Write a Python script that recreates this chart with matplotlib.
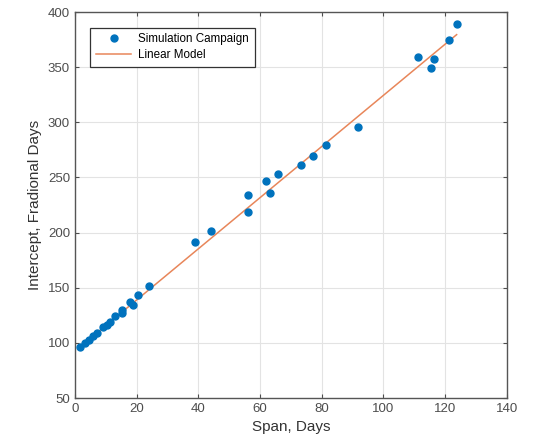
import numpy as np
import matplotlib
matplotlib.use('Agg')
import matplotlib.pyplot as plt

plt.rcParams['font.family'] = ['Liberation Sans', 'DejaVu Sans']

# data
span_days = [1.8, 3.4, 4.6, 5.8, 7.0, 9.2, 10.3, 11.3, 13.0, 15.1, 15.3, 18.0, 18.7, 20.4, 23.9,
             39.0, 44.0, 56.0, 56.1, 62.0, 63.1, 65.7, 73.2, 77.1, 81.4, 91.8,
             111.3, 115.4, 116.4, 121.1, 123.7]
intercept_days = [96, 100, 103, 106, 109, 114, 116, 118.5, 124, 127, 130, 137, 134, 143, 152,
                  191.5, 201, 219, 234, 247, 235.5, 253.5, 261, 269, 279, 295.5,
                  359, 349, 357.5, 374.5, 389]
# linear model coefficients
model_b0 = 92.5
model_b1 = 2.32
model_x = [1.8, 123.7]

xticks = [0, 20, 40, 60, 80, 100, 120, 140]
yticks = [50, 100, 150, 200, 250, 300, 350, 400]

fig = plt.figure(figsize=(5.39, 4.47), dpi=100)
ax = fig.add_axes([0.139, 0.1096, 0.8015, 0.8635])

ax.plot(span_days, intercept_days, 'o', color='#0072BD', markersize=5, label='Simulation Campaign', zorder=3)
mx = np.array(model_x)
ax.plot(mx, model_b0 + model_b1 * mx, '-', color='#E8865A', lw=1.1, label='Linear Model', zorder=2)

ax.set_xlim(0, 140)
ax.set_ylim(50, 400)
ax.set_xticks(xticks)
ax.set_yticks(yticks)
ax.grid(True, color='#e3e3e3', lw=0.8)
ax.set_axisbelow(True)
ax.tick_params(direction='in', top=True, right=True, labelsize=9.5, colors='#4d4d4d', length=3)
for s in ax.spines.values():
    s.set_color('#555555')
    s.set_linewidth(1.0)

ax.set_xlabel('Span, Days', fontsize=11, color='#333333', labelpad=4)
ax.set_ylabel('Intercept, Fradional Days', fontsize=11, color='#333333', labelpad=4)

leg = ax.legend(loc='upper left', bbox_to_anchor=(0.022, 0.975), fontsize=8.4, fancybox=False,
                framealpha=1, edgecolor='#333333', handlelength=3.0, borderpad=0.5, labelspacing=0.35,
                handletextpad=0.6)
leg.get_frame().set_linewidth(0.9)

fig.savefig('out.png', dpi=100)
